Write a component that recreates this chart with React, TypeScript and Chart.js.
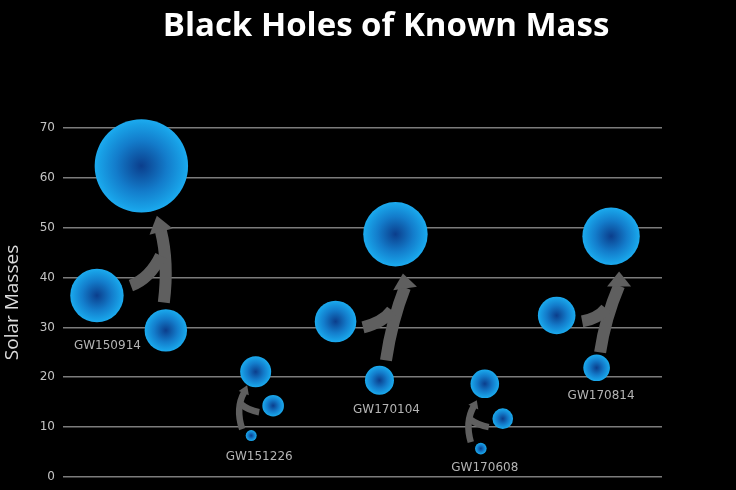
import React, { useEffect, useRef } from "react";
import { Chart, registerables } from "chart.js";

Chart.register(...registerables);

// ---- data ----
const eventLabels = ["GW150914", "GW151226", "GW170104", "GW170608", "GW170814"];

// heavier component, lighter component, merged remnant (solar masses)
const massA = [36.4, 14.3, 31.2, 11.7, 32.4];
const massB = [29.4, 8.3, 19.4, 5.7, 21.9];
const massFinal = [62.4, 21.1, 48.7, 18.7, 48.3];

// horizontal placement (arbitrary units, axis hidden)
const xA = [0.68, 4.21, 5.46, 8.81, 9.89];
const xB = [2.06, 3.77, 6.34, 8.37, 10.69];
const xFinal = [1.57, 3.86, 6.66, 8.45, 10.98];

// bubble sizes
const radiusA = [26.7, 10.8, 20.8, 10.3, 18.8];
const radiusB = [21.2, 5.5, 14.5, 5.8, 13.3];
const radiusFinal = [46.7, 15.5, 32.2, 14.3, 28.7];

// event name label anchors (data units)
const labelX = [0.89, 3.93, 6.48, 8.45, 10.78];
const labelY = [26.4, 4.0, 13.4, 1.8, 16.2];

// y axis
const yMin = 0;
const yMax = 70;
const yStep = 10;

// merge arrows (data units): stem start / control / head base, branch start / control / join, tip
const arrowStem = [
  [[2.02, 35.0], [2.12, 43.0], [1.96, 49.4]],
  [[3.59, 9.6], [3.45, 13.8], [3.63, 17.0]],
  [[6.47, 23.4], [6.59, 31.4], [6.85, 38.0]],
  [[8.17, 7.0], [8.05, 11.0], [8.23, 14.2]],
  [[10.76, 25.0], [10.86, 31.8], [11.14, 38.4]],
];
const arrowBranch = [
  [[1.36, 38.4], [1.74, 39.8], [1.96, 44.4]],
  [[3.93, 13.0], [3.71, 13.4], [3.57, 14.6]],
  [[6.01, 30.0], [6.41, 31.0], [6.59, 33.4]],
  [[8.53, 10.0], [8.31, 10.4], [8.15, 11.6]],
  [[10.4, 31.2], [10.72, 31.8], [10.88, 33.8]],
];
const arrowTip = [
  [1.88, 52.4],
  [3.69, 18.4],
  [6.81, 40.8],
  [8.29, 15.4],
  [11.14, 41.2],
];
const arrowBig = [true, false, true, false, true];

export default function App() {
  const canvasRef = useRef<HTMLCanvasElement | null>(null);

  useEffect(() => {
    const canvas = canvasRef.current;
    if (!canvas) return;

    const points: { x: number; y: number; r: number }[] = [];
    for (let i = 0; i < eventLabels.length; i++) {
      points.push({ x: xA[i], y: massA[i], r: radiusA[i] });
      points.push({ x: xB[i], y: massB[i], r: radiusB[i] });
      points.push({ x: xFinal[i], y: massFinal[i], r: radiusFinal[i] });
    }

    const overlayPlugin = {
      id: "overlay",
      afterDatasetsDraw(chart: any) {
        const ctx = chart.ctx as CanvasRenderingContext2D;
        const xs = chart.scales.x;
        const ys = chart.scales.y;
        const P = (p: number[]) => [xs.getPixelForValue(p[0]), ys.getPixelForValue(p[1])];
        ctx.save();
        // arrows
        for (let i = 0; i < arrowStem.length; i++) {
          const [S, C, H] = arrowStem[i].map(P);
          const [B, K, J] = arrowBranch[i].map(P);
          const T = P(arrowTip[i]);
          const lw = arrowBig[i] ? 12 : 6.5;
          const hw = arrowBig[i] ? 12 : 5.5;
          ctx.strokeStyle = "#5f5f5f";
          ctx.fillStyle = "#5f5f5f";
          ctx.lineWidth = lw;
          ctx.lineCap = "butt";
          ctx.beginPath();
          ctx.moveTo(S[0], S[1]);
          ctx.quadraticCurveTo(C[0], C[1], H[0], H[1]);
          ctx.stroke();
          ctx.beginPath();
          ctx.moveTo(B[0], B[1]);
          ctx.quadraticCurveTo(K[0], K[1], J[0], J[1]);
          ctx.stroke();
          const dx = T[0] - H[0];
          const dy = T[1] - H[1];
          const len = Math.hypot(dx, dy) || 1;
          const nx = -dy / len;
          const ny = dx / len;
          const bx = H[0] - (dx / len) * 1;
          const by = H[1] - (dy / len) * 1;
          ctx.beginPath();
          ctx.moveTo(T[0], T[1]);
          ctx.lineTo(bx + nx * hw, by + ny * hw);
          ctx.lineTo(bx - nx * hw, by - ny * hw);
          ctx.closePath();
          ctx.fill();
        }
        // event labels
        ctx.fillStyle = "#b4b4b4";
        ctx.font = "12px 'DejaVu Sans'";
        ctx.textAlign = "center";
        ctx.textBaseline = "middle";
        for (let i = 0; i < eventLabels.length; i++) {
          const [lx, ly] = P([labelX[i], labelY[i]]);
          ctx.fillText(eventLabels[i], lx, ly);
        }
        // title
        ctx.fillStyle = "#ffffff";
        ctx.font = "bold 33px 'Open Sans'";
        ctx.textAlign = "center";
        ctx.textBaseline = "alphabetic";
        ctx.fillText("Black Holes of Known Mass", chart.width / 2 + 18, 36);
        ctx.restore();
      },
    };

    const chart = new Chart(canvas, {
      type: "bubble",
      data: {
        datasets: [
          {
            data: points,
            clip: false as any,
            borderWidth: 0,
            hoverBorderWidth: 0,
            backgroundColor: (c: any) => {
              const fallback = "#1590da";
              if (c.type !== "data" || !c.raw) return fallback;
              const ch = c.chart;
              const xs = ch.scales && ch.scales.x;
              const ys = ch.scales && ch.scales.y;
              if (!xs || !ys) return fallback;
              const px = xs.getPixelForValue(c.raw.x);
              const py = ys.getPixelForValue(c.raw.y);
              const r = c.raw.r;
              if (![px, py, r].every((v) => Number.isFinite(v))) return fallback;
              const g = ch.ctx.createRadialGradient(px, py, 0, px, py, r);
              g.addColorStop(0, "#0b3e8c");
              g.addColorStop(0.55, "#137ccb");
              g.addColorStop(0.9, "#18a0e6");
              g.addColorStop(1, "#1cabf0");
              return g;
            },
          } as any,
        ],
      },
      options: {
        animation: false,
        responsive: false,
        events: [],
        layout: {
          autoPadding: false,
          padding: { top: 128, right: 74, bottom: 13, left: 0 },
        },
        plugins: {
          legend: { display: false },
          tooltip: { enabled: false },
          title: { display: false },
        },
        scales: {
          x: { type: "linear", min: 0, max: 12, display: false },
          y: {
            type: "linear",
            min: yMin,
            max: yMax,
            afterFit: (scale: any) => {
              scale.width = 63;
              scale.paddingTop = 0;
              scale.paddingBottom = 0;
            },
            ticks: {
              stepSize: yStep,
              color: "#c4c4c4",
              padding: 8,
              font: { family: "'DejaVu Sans'", size: 12 },
            },
            grid: {
              color: "#7c7c7c",
              lineWidth: 1.6,
              drawTicks: false,
            },
            border: { display: false },
            title: {
              display: true,
              text: "Solar Masses",
              color: "#dcdcdc",
              font: { family: "'Open Sans'", size: 19 },
              padding: { top: 1, bottom: 0 },
            },
          },
        },
      },
      plugins: [overlayPlugin],
    });
    chart.update();

    return () => {
      chart.destroy();
    };
  }, []);

  return (
    <div
      style={{
        position: "fixed",
        left: 0,
        top: 0,
        width: 736,
        height: 490,
        background: "#000",
        overflow: "hidden",
      }}
    >
      <canvas ref={canvasRef} width={736} height={490} style={{ display: "block" }} />
    </div>
  );
}
